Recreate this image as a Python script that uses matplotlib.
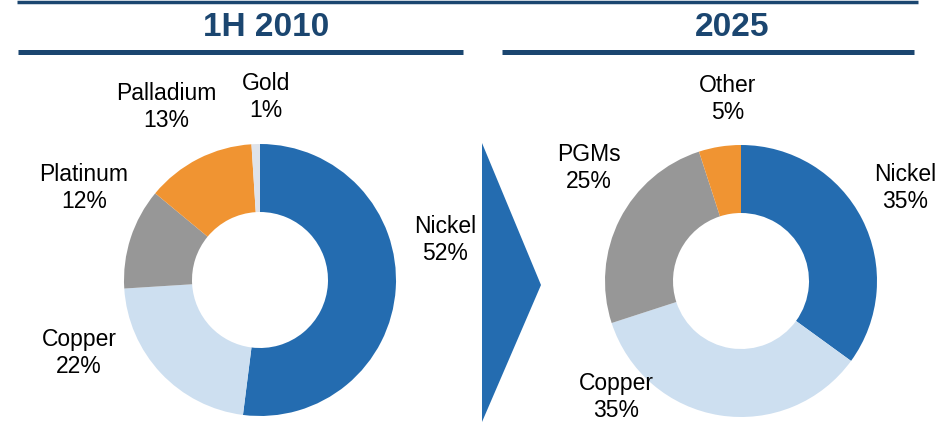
import matplotlib.pyplot as plt
from matplotlib.patches import Polygon

# data
left_labels = ['Nickel', 'Copper', 'Platinum', 'Palladium', 'Gold']
left_values = [52, 22, 12, 13, 1]
right_labels = ['Nickel', 'Copper', 'PGMs', 'Other']
right_values = [35, 35, 25, 5]
titles = ['1H 2010', '2025']

blue = '#246cb0'
navy = '#1b4670'
left_colors = [blue, '#cddff0', '#979797', '#f09432', '#dfe3ea']
right_colors = [blue, '#cddff0', '#979797', '#f09432']

# label anchor points (pixels, y from top)
left_pos = [(445, 240), (79, 353), (84, 188), (166, 107), (266, 97)]
right_pos = [(905, 188), (616, 397), (589, 168), (728, 99)]

W, H = 935, 422
fig = plt.figure(figsize=(W / 100, H / 100), dpi=100)
ax = fig.add_axes([0, 0, 1, 1])

def pie(values, colors, cx, cy, r):
    ax.pie(values, colors=colors, startangle=90, counterclock=False,
           center=(cx, H - cy), radius=r, frame=True,
           wedgeprops=dict(width=r * 0.5, linewidth=0))

pie(left_values, left_colors, 260, 280, 136)
pie(right_values, right_colors, 741, 281, 136)

for lab, v, (x, y) in zip(left_labels, left_values, left_pos):
    ax.text(x, H - y, f'{lab}\n{v}%', ha='center', va='center',
            fontsize=16.5, family='Liberation Sans', linespacing=1.2)
for lab, v, (x, y) in zip(right_labels, right_values, right_pos):
    ax.text(x, H - y, f'{lab}\n{v}%', ha='center', va='center',
            fontsize=16.5, family='Liberation Sans', linespacing=1.2)

# header lines and titles
ax.plot([17, 918], [H - 1.5, H - 1.5], color=navy, lw=2.5, solid_capstyle='butt')
ax.plot([18, 463], [H - 51.5, H - 51.5], color=navy, lw=3.6, solid_capstyle='butt')
ax.plot([502, 914], [H - 51.5, H - 51.5], color=navy, lw=3.6, solid_capstyle='butt')
ax.text(266, H - 27, titles[0], ha='center', va='center', fontsize=24,
        fontweight='bold', color=navy, family='Liberation Sans')
ax.text(732, H - 27, titles[1], ha='center', va='center', fontsize=24,
        fontweight='bold', color=navy, family='Liberation Sans')

# arrow
ax.add_patch(Polygon([(482, H - 143), (541, H - 285), (482, H - 422)],
                     closed=True, color=blue, lw=0))

ax.set_xlim(0, W)
ax.set_ylim(0, H)
ax.set_aspect('equal')
ax.axis('off')

fig.savefig('out.png', dpi=100)
